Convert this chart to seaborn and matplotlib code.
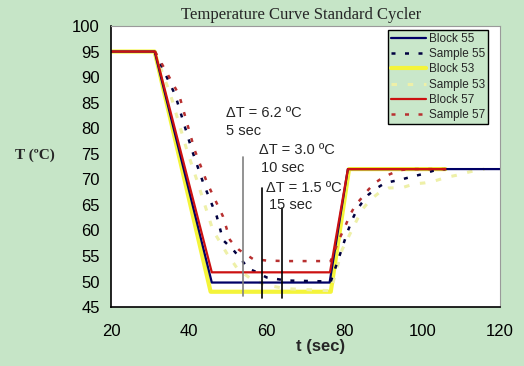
import matplotlib
matplotlib.use("Agg")
import matplotlib.pyplot as plt
import seaborn as sns
import pandas as pd
from matplotlib.lines import Line2D

sns.set_theme(style="white")
plt.rcParams['font.family'] = ['Liberation Sans', 'DejaVu Sans']

# --- data ---
block55_t = [20, 31.2, 45.9, 76.2, 80.9, 120]
block55_T = [95, 95, 49.8, 49.8, 72, 72]
block53_t = [20, 31.2, 45.6, 76.5, 81.2, 106]
block53_T = [95, 95, 48.0, 48.0, 72, 72]
block57_t = [20, 31.3, 45.9, 76.3, 80.9, 106]
block57_T = [95, 95, 51.8, 51.8, 72, 72]

sample55_t = [31.2, 36.5, 40.8, 43.7, 47.2, 48.8, 51.4, 53.6, 55.2, 57.5, 60, 65, 76.5,
              79.0, 80.7, 82.0, 83.2, 84.5, 86.2, 88.4, 90.5, 94.3, 97.3, 100, 103, 106]
sample55_T = [95, 86.5, 75.7, 69.3, 62.7, 58.1, 56.2, 54.2, 52.6, 51.8, 50.8, 50.2, 50.0,
              55.6, 59.5, 62.1, 64.0, 65.4, 67.0, 68.3, 69.3, 69.9, 70.5, 71.0, 71.7, 72]
sample53_t = [31.2, 35.3, 39.5, 42.3, 46.2, 49.7, 52.5, 56, 60, 65, 76.5,
              79.4, 81.1, 82.8, 84.5, 86.7, 88.8, 91.4, 95, 98, 100.7, 103.3, 106.3,
              108.9, 111.9, 113.6, 116]
sample53_T = [95, 86.5, 75.7, 69.3, 60.0, 55.6, 52.5, 50.5, 49.3, 48.6, 48.2,
              56.2, 58.8, 61.4, 64.0, 66.0, 67.3, 68.3, 68.4, 69.1, 69.3, 69.7, 70.4,
              70.8, 71.4, 71.7, 72]
sample57_t = [31.3, 37.5, 41.5, 44.7, 48.8, 50.6, 52.9, 56.5, 60, 65, 76.5,
              78.4, 80.2, 81.5, 82.8, 84.5, 86.2, 87.9, 89.6, 91.7, 94.3, 97, 106]
sample57_T = [95, 86.5, 75.7, 69.3, 62.7, 58.1, 56.2, 54.4, 54.1, 54.0, 54.0,
              57.8, 60.8, 63.1, 64.9, 66.4, 68.0, 69.3, 70.2, 71.0, 71.8, 72, 72]

# annotation markers (time, top, bottom) and their labels
marker_t = [53.9, 58.8, 64.0]
marker_top = [74.4, 68.3, 64.4]
marker_bottom = [47.2, 46.8, 46.8]
marker_colors = ["#808080", "black", "black"]
note_lines = ["\u0394T = 6.2 \u00baC", "5 sec",
              "\u0394T = 3.0 \u00baC", "10 sec",
              "\u0394T = 1.5 \u00baC", "15 sec"]
note_x = [49.5, 49.5, 58.0, 58.5, 59.9, 60.5]
note_y = [83.0, 79.5, 75.8, 72.3, 68.3, 64.9]

series = [
    ("Block 53", block53_t, block53_T, "#f4f43a", 3.0, None),
    ("Sample 53", sample53_t, sample53_T, "#eef0a8", 2.2, (1.8, 3.5)),
    ("Block 55", block55_t, block55_T, "#000066", 1.6, None),
    ("Sample 55", sample55_t, sample55_T, "#000040", 1.8, (1.6, 3.8)),
    ("Sample 57", sample57_t, sample57_T, "#b83030", 1.8, (1.6, 3.8)),
    ("Block 57", block57_t, block57_T, "#cc1111", 1.6, None),
]
legend_order = ["Block 55", "Sample 55", "Block 53", "Sample 53", "Block 57", "Sample 57"]

bg = "#c6e5c7"
fig = plt.figure(figsize=(5.24, 3.66), dpi=100, facecolor=bg)
ax = fig.add_axes([0.212, 0.161, 0.742, 0.768])
ax.set_facecolor("white")

handles = {}
for name, t, T, color, lw, dash in series:
    df = pd.DataFrame({"t": t, "T": T})
    sns.lineplot(data=df, x="t", y="T", ax=ax, color=color, linewidth=lw,
                 sort=False, estimator=None)
    line = ax.lines[-1]
    if dash:
        line.set_dashes(dash)
    handles[name] = Line2D([], [], color=color, linewidth=lw,
                           dashes=dash if dash else (None, None))

for x, top, bot, c in zip(marker_t, marker_top, marker_bottom, marker_colors):
    ax.plot([x, x], [bot, top], color=c, linewidth=1.2)

for txt, x, y in zip(note_lines, note_x, note_y):
    ax.text(x, y, txt, fontsize=10.5, va="center", ha="left")

ax.set_xlim(20, 120)
ax.set_ylim(45, 100)
ax.set_xticks([20, 40, 60, 80, 100, 120])
ax.set_yticks(list(range(45, 101, 5)))
ax.tick_params(axis="both", direction="out", length=3, width=1, colors="black",
               labelsize=12)
ax.tick_params(axis="x", pad=9)
ax.tick_params(axis="y", pad=5)

for side in ["left", "bottom"]:
    ax.spines[side].set_color("black")
    ax.spines[side].set_linewidth(1.2)
for side in ["top", "right"]:
    ax.spines[side].set_color("#9a9a9a")
    ax.spines[side].set_linewidth(0.8)

ax.set_xlabel("")
ax.set_ylabel("")
fig.text(0.575, 0.958, "Temperature Curve Standard Cycler", fontsize=12,
         family=["Liberation Serif", "DejaVu Serif"], ha="center", va="center")
fig.text(0.028, 0.575, "T (\u00baC)", fontsize=11, fontweight="bold",
         family=["Liberation Serif", "DejaVu Serif"], ha="left", va="center")
fig.text(0.612, 0.052, "t (sec)", fontsize=12, fontweight="bold",
         ha="center", va="center")

leg = ax.legend([handles[n] for n in legend_order], legend_order,
                loc="upper right", bbox_to_anchor=(0.969, 0.986), borderaxespad=0,
                fontsize=8.5, frameon=True, fancybox=False, framealpha=1,
                facecolor="#c9e7ca", edgecolor="black", handlelength=3.0,
                handletextpad=0.2, labelspacing=0.28, borderpad=0.25)
leg.get_frame().set_linewidth(1.0)

fig.savefig("out.png", dpi=100, facecolor=bg)
